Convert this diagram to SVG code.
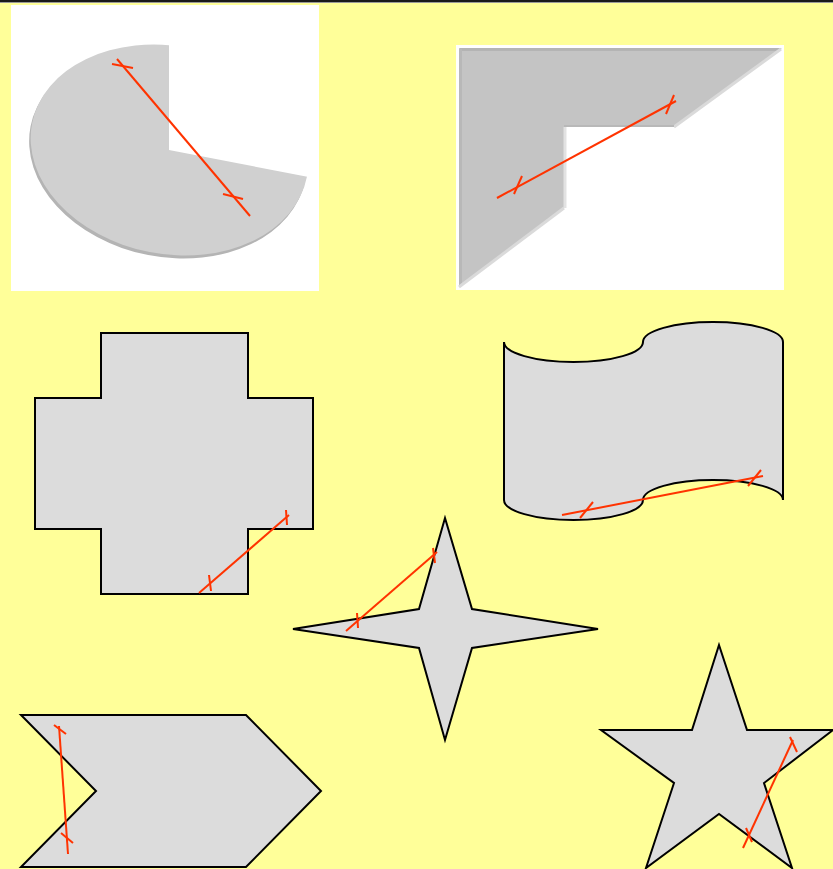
<svg xmlns="http://www.w3.org/2000/svg" width="833" height="869" viewBox="0 0 833 869">
<style>
.shape{fill:#dcdcdc;stroke:#000;stroke-width:2;stroke-linejoin:miter}
.red{stroke:#ff3300;stroke-width:2;fill:none;stroke-linecap:butt}
.panel{fill:#fff}
</style>
<rect x="0" y="0" width="833" height="869" fill="#ffff99"/>
<rect x="0" y="0" width="833" height="2" fill="#1a1a1a"/>
<line x1="0" y1="2.5" x2="833" y2="2.5" stroke="#9a9a9a" stroke-width="1"/>

<g id="pie">
  <rect class="panel" x="11" y="5" width="308" height="286"/>
  <ellipse cx="168" cy="153" rx="140" ry="104" transform="rotate(11 168 153)" fill="#b4b4b4"/>
  <ellipse cx="169.5" cy="150" rx="140" ry="104" transform="rotate(11 169.5 150)" fill="#d0d0d0"/>
  <polygon points="169,150 169,30 319,30 319,179" fill="#fff"/>
</g>

<g id="lshape">
  <rect class="panel" x="456" y="45" width="328" height="245"/>
  <polygon points="459,48 782,48 674,127 564,127 564,208 459,287" fill="#c4c4c4"/>
  <line x1="460" y1="49.5" x2="780" y2="49.5" stroke="#b4b4b4" stroke-width="3"/>
  <line x1="460.5" y1="49" x2="460.5" y2="285" stroke="#b8b8b8" stroke-width="3"/>
  <line x1="781" y1="49" x2="674" y2="127" stroke="#dadada" stroke-width="3"/>
  <line x1="459" y1="287" x2="564" y2="208" stroke="#dadada" stroke-width="3"/>
  <line x1="564" y1="126" x2="674" y2="126" stroke="#b8b8b8" stroke-width="2"/>
  <line x1="565" y1="127" x2="565" y2="208" stroke="#e2e2e2" stroke-width="3"/>
</g>

<g id="cross">
  <polygon class="shape" points="101,333 248,333 248,398 313,398 313,529 248,529 248,594 101,594 101,529 35,529 35,398 101,398"/>
</g>

<g id="wave">
  <path class="shape" d="M504,342 A69.5,20 0 0,0 643,342 A70,20 0 0,1 783,342 L783,500 A70,20 0 0,0 643,500 A69.5,20 0 0,1 504,500 Z"/>
</g>

<g id="star4">
  <polygon class="shape" points="445,518 472,609 598,629 472,648 445,740 419,648 293,629 419,609"/>
</g>

<g id="chevron">
  <polygon class="shape" points="21,715 246,715 321,791 246,867 21,867 96,791"/>
</g>

<g id="star5">
  <polygon class="shape" points="719,645 747,730 833,730 764,783 792,868 719,814 646,868 674,783 601,730 692,730"/>
</g>

<g id="connectors">
  <line class="red" x1="117" y1="59" x2="250" y2="216"/>
  <line class="red" x1="112" y1="64" x2="133" y2="68"/>
  <line class="red" x1="223" y1="194" x2="243" y2="199"/>

  <line class="red" x1="497" y1="198" x2="676" y2="101"/>
  <line class="red" x1="514" y1="194" x2="522" y2="176"/>
  <line class="red" x1="666" y1="114" x2="674" y2="95"/>

  <line class="red" x1="199" y1="593" x2="289" y2="515"/>
  <line class="red" x1="209" y1="575" x2="211" y2="591"/>
  <line class="red" x1="286" y1="510" x2="287" y2="525"/>

  <line class="red" x1="562" y1="515" x2="763" y2="476"/>
  <line class="red" x1="580" y1="518" x2="593" y2="502"/>
  <line class="red" x1="748" y1="486" x2="761" y2="470"/>

  <line class="red" x1="346" y1="631" x2="437" y2="552"/>
  <line class="red" x1="357" y1="613" x2="358" y2="628"/>
  <line class="red" x1="433" y1="548" x2="435" y2="563"/>

  <line class="red" x1="59" y1="726" x2="68" y2="854"/>
  <line class="red" x1="54" y1="725" x2="66" y2="734"/>
  <line class="red" x1="61" y1="833" x2="73" y2="843"/>

  <line class="red" x1="743" y1="848" x2="793" y2="740"/>
  <line class="red" x1="790" y1="737" x2="797" y2="752"/>
  <line class="red" x1="746" y1="828" x2="752" y2="842"/>
</g>
</svg>
